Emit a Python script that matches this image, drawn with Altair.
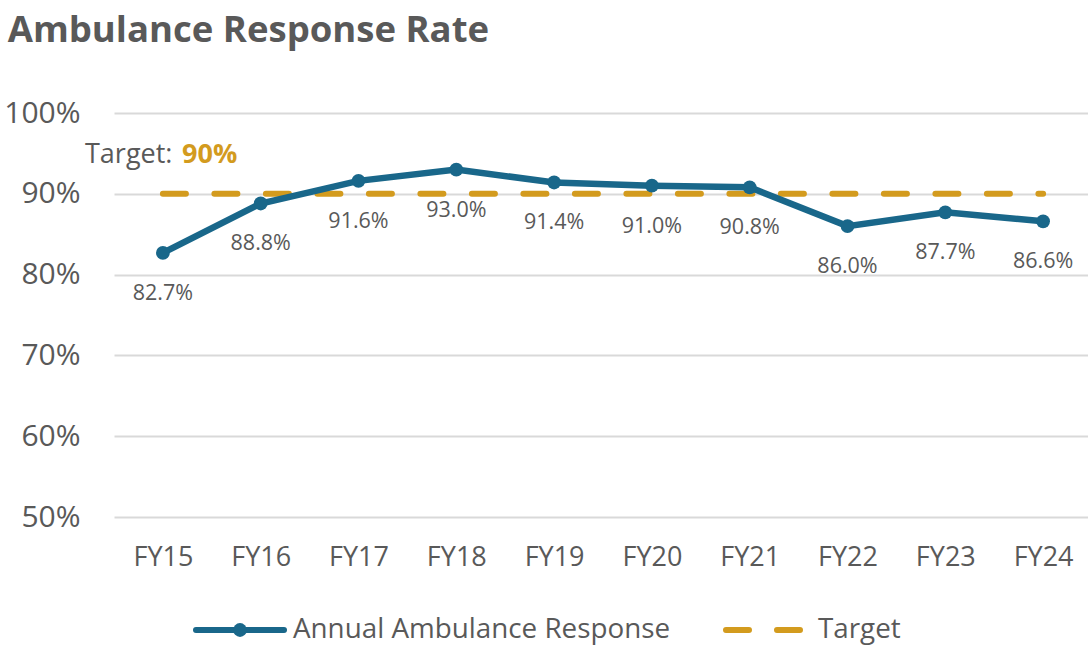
import altair as alt
import pandas as pd

years = ["FY15", "FY16", "FY17", "FY18", "FY19", "FY20", "FY21", "FY22", "FY23", "FY24"]
rates = [82.7, 88.8, 91.6, 93.0, 91.4, 91.0, 90.8, 86.0, 87.7, 86.6]
target_value = 90
series_names = ["Annual Ambulance Response", "Target"]

TEAL = "#19678A"
GOLD = "#D39B1E"
GRAY = "#595959"
FONT = "Open Sans"

df = pd.DataFrame({"year": years, "rate": rates, "target": [target_value] * len(years)})

x = alt.X("year:N", sort=years, scale=alt.Scale(type="point", padding=0.5),
          axis=alt.Axis(title=None, labelAngle=0, labelFontSize=27, labelColor=GRAY,
                        labelFont=FONT, labelPadding=27, ticks=False, domain=False, grid=False))
y_scale = alt.Scale(domain=[50, 100])
y_axis = alt.Axis(title=None, values=[50, 60, 70, 80, 90, 100], labelExpr="datum.value + '%'",
                  labelFontSize=30, labelColor=GRAY, labelFont=FONT, labelPadding=34,
                  ticks=False, domain=False, grid=True, gridColor="#D9D9D9", gridWidth=2)

base = alt.Chart(df)

target_line = base.mark_line(color=GOLD, strokeWidth=6, strokeDash=[23, 28.5], strokeCap="round").encode(
    x=x, y=alt.Y("target:Q", scale=y_scale, axis=y_axis)
)

rate_line = base.mark_line(color=TEAL, strokeWidth=6.5).encode(
    x=x, y=alt.Y("rate:Q", scale=y_scale)
)
rate_points = base.mark_point(color=TEAL, filled=True, size=190, opacity=1).encode(
    x=x, y=alt.Y("rate:Q", scale=y_scale)
)
rate_labels = base.transform_calculate(
    label="format(datum.rate, '.1f') + '%'"
).mark_text(color=GRAY, fontSize=21.5, font=FONT, dy=41, baseline="middle").encode(
    x=x, y=alt.Y("rate:Q", scale=y_scale), text="label:N"
)

# annotation "Target: 90%"
ann_df = pd.DataFrame({"t1": ["Target:"], "t2": [f"{target_value}%"], "v": [target_value]})
ann1 = alt.Chart(ann_df).mark_text(color=GRAY, fontSize=27, font=FONT, align="left", baseline="middle").encode(
    x=alt.value(-29), y=alt.value(42), text="t1:N")
ann2 = alt.Chart(ann_df).mark_text(color=GOLD, fontSize=27, font=FONT, fontWeight="bold", align="left",
                                   baseline="middle").encode(
    x=alt.value(68), y=alt.value(42), text="t2:N")

# manual legend
leg_df = pd.DataFrame({"name": series_names})
leg_y = 517
leg_line = alt.Chart(leg_df).transform_filter(alt.datum.name == series_names[0]).mark_rule(
    color=TEAL, strokeWidth=6, strokeCap="round").encode(
    x=alt.value(82), x2=alt.value(170), y=alt.value(leg_y))
leg_pt = alt.Chart(leg_df).transform_filter(alt.datum.name == series_names[0]).mark_point(
    color=TEAL, filled=True, size=190, opacity=1).encode(x=alt.value(126), y=alt.value(leg_y))
leg_txt1 = alt.Chart(leg_df).transform_filter(alt.datum.name == series_names[0]).mark_text(
    color=GRAY, fontSize=27.8, font=FONT, align="left", baseline="middle").encode(
    x=alt.value(179), y=alt.value(leg_y), text="name:N")
leg_dash = alt.Chart(leg_df).transform_filter(alt.datum.name == series_names[1]).mark_rule(
    color=GOLD, strokeWidth=6, strokeCap="round", strokeDash=[23, 28]).encode(
    x=alt.value(612), x2=alt.value(686), y=alt.value(leg_y))
leg_txt2 = alt.Chart(leg_df).transform_filter(alt.datum.name == series_names[1]).mark_text(
    color=GRAY, fontSize=27.8, font=FONT, align="left", baseline="middle").encode(
    x=alt.value(704), y=alt.value(leg_y), text="name:N")

chart = alt.layer(
    target_line, rate_line, rate_points, rate_labels, ann1, ann2,
    leg_line, leg_pt, leg_txt1, leg_dash, leg_txt2
).properties(
    width=978, height=404,
    autosize="none",
    padding={"left": 114, "top": 113, "right": -4, "bottom": 153},
    title=alt.TitleParams("Ambulance Response Rate", anchor="start", dx=4, offset=49,
                          fontSize=36.5, font=FONT, fontWeight="bold", color=GRAY)
).configure_view(stroke=None)

chart.save("out.html", embed_options={"renderer": "svg", "actions": False})
